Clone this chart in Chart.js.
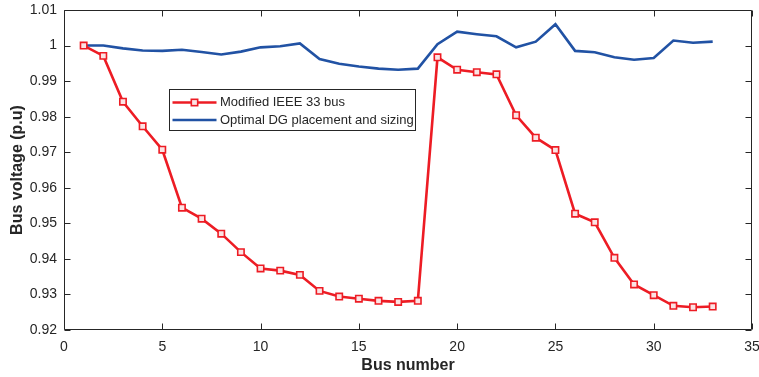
<!DOCTYPE html>
<html>
<head>
<meta charset="utf-8">
<title>Bus voltage profile</title>
<script src="https://cdn.jsdelivr.net/npm/chart.js@4.4.1/dist/chart.umd.min.js"></script>
<style>
  html, body { margin: 0; padding: 0; background: #ffffff; }
  #wrap { width: 759px; height: 377px; position: relative; }
</style>
</head>
<body>
<div id="wrap"><canvas id="chart" width="759" height="377"></canvas></div>
<script>
// Bus numbers of the 33-bus feeder
const buses = [1, 2, 3, 4, 5, 6, 7, 8, 9, 10, 11, 12, 13, 14, 15, 16, 17,
               18, 19, 20, 21, 22, 23, 24, 25, 26, 27, 28, 29, 30, 31, 32, 33];

// Voltage magnitudes (p.u) of the modified IEEE 33 bus system
const modifiedIeee33 = [1.0000, 0.9971, 0.9842, 0.9773, 0.9707, 0.9544, 0.9513, 0.9471,
                        0.9419, 0.9373, 0.9367, 0.9355, 0.9310, 0.9294, 0.9288, 0.9282,
                        0.9279, 0.9282, 0.9967, 0.9932, 0.9925, 0.9919, 0.9804, 0.9741,
                        0.9706, 0.9527, 0.9503, 0.9403, 0.9328, 0.9298, 0.9268, 0.9264,
                        0.9266];

// Voltage magnitudes (p.u) after optimal DG placement and sizing
const optimalDg = [1.0000, 1.0000, 0.9992, 0.9986, 0.9985, 0.9988, 0.9982, 0.9975,
                   0.9983, 0.9995, 0.9998, 1.0006, 0.9962, 0.9949, 0.9941, 0.9935,
                   0.9932, 0.9935, 1.0004, 1.0039, 1.0032, 1.0026, 0.9995, 1.0011,
                   1.0060, 0.9985, 0.9981, 0.9967, 0.9960, 0.9965, 1.0014, 1.0008,
                   1.0011];

// Axis ticks
const xTicks = [0, 5, 10, 15, 20, 25, 30, 35];
const yTicks = [0.92, 0.93, 0.94, 0.95, 0.96, 0.97, 0.98, 0.99, 1.00, 1.01];

const seriesNames = ['Modified IEEE 33 bus', 'Optimal DG placement and sizing'];

const RED = '#ED1C24';
const BLUE = '#2152A4';
const INK = '#262626';
const FONT = "'Liberation Sans', Arial, Helvetica, sans-serif";

const toPoints = (ys) => buses.map((b, i) => ({ x: b, y: ys[i] }));

// Box around the axes with inward tick marks on all four sides
const axesBox = {
  id: 'axesBox',
  afterDatasetsDraw(chart) {
    const { ctx, chartArea: a, scales } = chart;
    const L = Math.round(a.left) + 0.5, R = Math.round(a.right) - 0.5;
    const T = Math.round(a.top) + 0.5, B = Math.round(a.bottom) - 0.5;
    const tl = 6;
    ctx.save();
    ctx.strokeStyle = INK;
    ctx.lineWidth = 1;
    ctx.beginPath();
    ctx.rect(L, T, R - L, B - T);
    xTicks.forEach(v => {
      const px = Math.round(scales.x.getPixelForValue(v)) + 0.5;
      ctx.moveTo(px, B); ctx.lineTo(px, B - tl);
      ctx.moveTo(px, T); ctx.lineTo(px, T + tl);
    });
    yTicks.forEach(v => {
      const py = Math.round(scales.y.getPixelForValue(v)) + 0.5;
      ctx.moveTo(L, py); ctx.lineTo(L + tl, py);
      ctx.moveTo(R, py); ctx.lineTo(R - tl, py);
    });
    ctx.stroke();
    ctx.restore();
  }
};

// Legend box drawn inside the plotting area
const insetLegend = {
  id: 'insetLegend',
  afterDraw(chart) {
    const { ctx } = chart;
    const bx = 169.5, by = 89.5, bw = 246, bh = 41;
    const rows = [102.5, 120];
    const x0 = 172.5, x1 = 216.5, tx = 220;
    ctx.save();
    ctx.fillStyle = '#ffffff';
    ctx.fillRect(bx, by, bw, bh);
    ctx.strokeStyle = INK;
    ctx.lineWidth = 1;
    ctx.strokeRect(bx, by, bw, bh);

    chart.data.datasets.forEach((d, i) => {
      const y = rows[i];
      ctx.strokeStyle = d.borderColor;
      ctx.lineWidth = d.borderWidth;
      ctx.beginPath();
      ctx.moveTo(x0, y); ctx.lineTo(x1, y);
      ctx.stroke();
      if (d.pointRadius > 0) {
        const s = d.pointRadius * Math.SQRT1_2;
        const cx = (x0 + x1) / 2;
        ctx.fillStyle = d.pointBackgroundColor;
        ctx.strokeStyle = d.pointBorderColor;
        ctx.lineWidth = d.pointBorderWidth;
        ctx.fillRect(cx - s, y - s, 2 * s, 2 * s);
        ctx.strokeRect(cx - s, y - s, 2 * s, 2 * s);
      }
      ctx.fillStyle = INK;
      ctx.font = '13px ' + FONT;
      ctx.textBaseline = 'middle';
      ctx.textAlign = 'left';
      ctx.fillText(d.label, tx, y);
    });
    ctx.restore();
  }
};

new Chart(document.getElementById('chart'), {
  type: 'line',
  data: {
    datasets: [
      {
        label: seriesNames[0],
        data: toPoints(modifiedIeee33),
        borderColor: RED,
        borderWidth: 2.6,
        pointStyle: 'rect',
        pointRadius: 4.5,
        pointBorderWidth: 1.6,
        pointBorderColor: RED,
        pointBackgroundColor: '#FBE3E4',
        tension: 0
      },
      {
        label: seriesNames[1],
        data: toPoints(optimalDg),
        borderColor: BLUE,
        borderWidth: 2.6,
        pointRadius: 0,
        tension: 0
      }
    ]
  },
  options: {
    responsive: false,
    animation: false,
    devicePixelRatio: 1,
    layout: { padding: { top: 10, right: 7, left: 0, bottom: 0 } },
    plugins: {
      legend: { display: false },
      tooltip: { enabled: false }
    },
    scales: {
      x: {
        type: 'linear',
        min: 0, max: 35,
        afterBuildTicks: (s) => { s.ticks = xTicks.map(v => ({ value: v })); },
        afterFit: (s) => {
          s.height = 47;
          s.paddingLeft = 0; s.paddingRight = 0;
          s.paddingTop = 0; s.paddingBottom = 0;
        },
        grid: { display: false, drawTicks: false },
        border: { display: false },
        ticks: {
          padding: 9,
          color: INK,
          font: { family: FONT, size: 14 },
          maxRotation: 0,
          callback: (v) => String(v)
        },
        title: {
          display: true,
          text: 'Bus number',
          color: INK,
          font: { family: FONT, size: 16, weight: 'bold' },
          padding: { top: 0, bottom: 2 }
        }
      },
      y: {
        type: 'linear',
        min: 0.92, max: 1.01,
        afterBuildTicks: (s) => { s.ticks = yTicks.map(v => ({ value: v })); },
        afterFit: (s) => {
          s.width = 64;
          s.paddingLeft = 0; s.paddingRight = 0;
          s.paddingTop = 0; s.paddingBottom = 0;
        },
        grid: { display: false, drawTicks: false },
        border: { display: false },
        ticks: {
          padding: 7,
          color: INK,
          font: { family: FONT, size: 14 },
          callback: (v) => String(Number(v.toFixed(2)))
        },
        title: {
          display: true,
          text: 'Bus voltage (p.u)',
          color: INK,
          font: { family: FONT, size: 16, weight: 'bold' },
          padding: { top: 8, bottom: 0 }
        }
      }
    }
  },
  plugins: [axesBox, insetLegend]
});
</script>
</body>
</html>
